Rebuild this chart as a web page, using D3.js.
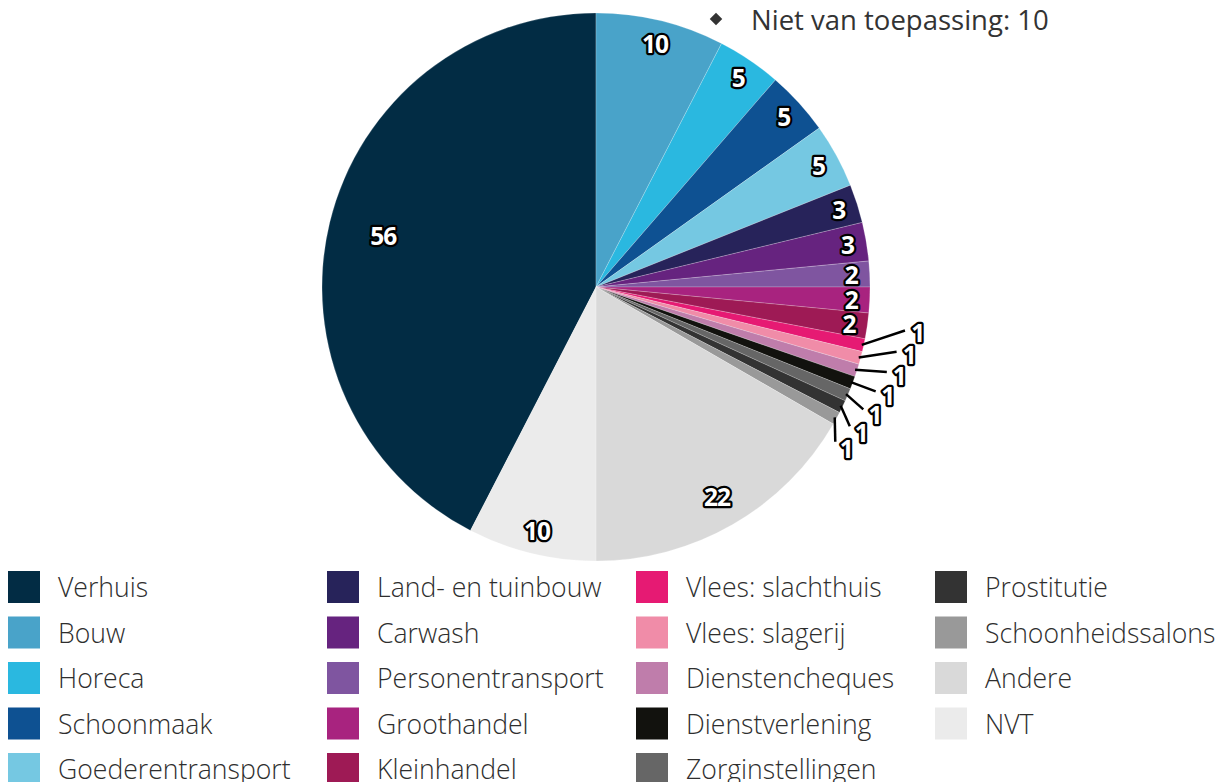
<!DOCTYPE html>
<html lang="nl">
<head>
  <meta charset="UTF-8">
  <title>Sectoren</title>
  <script src="https://d3js.org/d3.v7.min.js"></script>
  <style>
    body { margin: 0; background: #fff; }
    svg { display: block; font-family: "Open Sans", "Noto Sans", sans-serif; }
    .legend-text { font-size: 26.6px; font-weight: 300; fill: #2e2e2e; }
    .slice-label { font-size: 24.5px; font-weight: 700; fill: #fff; stroke: #000; stroke-width: 4.5px; stroke-linejoin: round; paint-order: stroke; letter-spacing: -1px; }
  </style>
</head>
<body>
<svg id="chart"></svg>
<script>
  // data, in the order the slices go round (Verhuis closes the circle at 12 o'clock)
  const sectors = ["Verhuis", "Bouw", "Horeca", "Schoonmaak", "Goederentransport",
    "Land- en tuinbouw", "Carwash", "Personentransport", "Groothandel", "Kleinhandel",
    "Vlees: slachthuis", "Vlees: slagerij", "Dienstencheques", "Dienstverlening", "Zorginstellingen",
    "Prostitutie", "Schoonheidssalons", "Andere", "NVT"];
  const counts = [56, 10, 5, 5, 5, 3, 3, 2, 2, 2, 1, 1, 1, 1, 1, 1, 1, 22, 10];
  const colors = ["#022c44", "#49a3c9", "#2ab8e0", "#0e5192", "#75c8e2",
    "#27235a", "#66237f", "#7f55a0", "#a8237f", "#9e1a55",
    "#e61a73", "#f08ca8", "#bf7dab", "#12120e", "#666666",
    "#333333", "#999999", "#d9d9d9", "#ebebeb"];
  const noteText = "Niet van toepassing: 10";

  const width = 1227, height = 782;
  const cx = 596, cy = 287, R = 274;

  const svg = d3.select("#chart")
    .attr("width", width)
    .attr("height", height);

  const data = sectors.map((s, i) => ({ name: s, value: counts[i], color: colors[i] }));
  const total = d3.sum(counts);

  // Verhuis first in the legend but last round the pie
  const start = -counts[0] / total * 2 * Math.PI;
  const pie = d3.pie()
    .sort(null)
    .value(d => d.value)
    .startAngle(start)
    .endAngle(start + 2 * Math.PI);

  const arcs = pie(data);
  const arc = d3.arc().innerRadius(0).outerRadius(R);

  const g = svg.append("g").attr("transform", `translate(${cx},${cy})`);

  g.selectAll("path")
    .data(arcs)
    .join("path")
    .attr("d", arc)
    .attr("fill", d => d.data.color)
    .attr("stroke", "rgba(255,255,255,0.35)")
    .attr("stroke-width", 0.6);

  const mid = d => (d.startAngle + d.endAngle) / 2;
  const polar = (a, r) => [Math.sin(a) * r, -Math.cos(a) * r];
  // big slices get their label a bit further in
  const labelR = d => R - 17 - 0.25 * (d.endAngle - d.startAngle) * 180 / Math.PI;

  // inside labels
  const inside = arcs.filter(d => d.data.value >= 2);
  g.selectAll(".in")
    .data(inside)
    .join("text")
    .attr("class", "slice-label")
    .attr("text-anchor", "middle")
    .attr("dominant-baseline", "central")
    .attr("x", d => polar(mid(d), labelR(d))[0])
    .attr("y", d => polar(mid(d), labelR(d))[1])
    .text(d => d.value);

  // small slices: labels outside with connectors, spread out
  const outside = arcs.filter(d => d.data.value < 2);
  const n = outside.length;
  const centerAngle = d3.mean(outside, mid);
  const step = 4.15 * Math.PI / 180;
  outside.forEach((d, i) => {
    const la = centerAngle + (i - (n - 1) / 2) * step;
    const lr = 325 - 4.5 * i;
    const p0 = polar(mid(d), R - 2);
    const p1 = polar(la, lr - 13);
    const p2 = polar(la, lr);
    g.append("path")
      .attr("d", `M${p0[0]},${p0[1]}L${p1[0]},${p1[1]}`)
      .attr("fill", "none")
      .attr("stroke", "#000")
      .attr("stroke-width", 2.5);
    g.append("text")
      .attr("class", "slice-label")
      .attr("text-anchor", "middle")
      .attr("dominant-baseline", "central")
      .attr("x", p2[0])
      .attr("y", p2[1])
      .text(d.value);
  });

  // note at top right
  const note = svg.append("g").attr("transform", "translate(716,19)");
  note.append("path")
    .attr("d", d3.symbol(d3.symbolDiamond2, 100))
    .attr("fill", "#333");
  note.append("text")
    .attr("x", 35)
    .attr("y", 0)
    .attr("dominant-baseline", "central")
    .attr("font-size", 27.5)
    .attr("fill", "#333")
    .text(noteText);

  // legend, 5 rows, filled column by column
  const colX = [8, 327, 636, 935];
  const rowY = d3.scaleLinear().domain([0, 1]).range([571, 616.5]);
  const legend = svg.append("g");
  const items = legend.selectAll("g")
    .data(data)
    .join("g")
    .attr("transform", (d, i) => `translate(${colX[Math.floor(i / 5)]},${rowY(i % 5)})`);
  items.append("rect")
    .attr("width", 32)
    .attr("height", 32)
    .attr("fill", d => d.color);
  items.append("text")
    .attr("class", "legend-text")
    .attr("x", 50)
    .attr("y", 16)
    .attr("dominant-baseline", "central")
    .text(d => d.name);
</script>
</body>
</html>
